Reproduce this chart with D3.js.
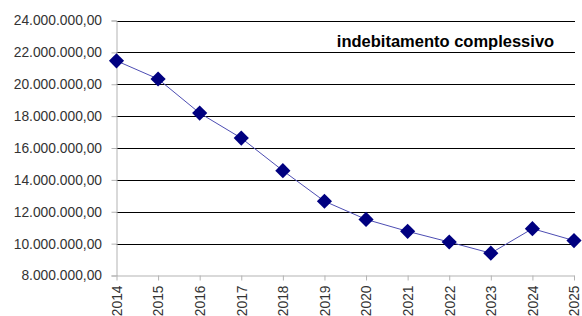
<!DOCTYPE html>
<html>
<head>
<meta charset="utf-8">
<script src="https://cdn.jsdelivr.net/npm/d3@7"></script>
<style>
  body { margin: 0; background: #fff; }
  svg { display: block; font-family: "Liberation Sans", Arial, sans-serif; }
</style>
</head>
<body>
<svg id="chart" width="582" height="316"></svg>
<script>
// data
var years = ["2014", "2015", "2016", "2017", "2018", "2019", "2020", "2021", "2022", "2023", "2024", "2025"];
var debt = [21470000, 20330000, 18190000, 16620000, 14580000, 12660000, 11520000, 10770000, 10100000, 9400000, 10940000, 10190000];
var yTicks = [8000000, 10000000, 12000000, 14000000, 16000000, 18000000, 20000000, 22000000, 24000000];
var title = "indebitamento complessivo";

var svg = d3.select("#chart");
var margin = {left: 116.5, right: 8, top: 20.5, bottom: 40.5};

var x = d3.scalePoint().domain(years).range([margin.left, 574]);
var y = d3.scaleLinear().domain([8000000, 24000000]).range([275.5, margin.top]);

// italian number format 24.000.000,00
var fmt = d3.formatLocale({decimal: ",", thousands: ".", grouping: [3], currency: ["€", ""]}).format(",.2f");

// gridlines
svg.append("g").selectAll("line")
  .data(yTicks.slice(1))
  .join("line")
  .attr("x1", margin.left).attr("x2", 575)
  .attr("y1", function (d) { return Math.round(y(d)) + 0.5; })
  .attr("y2", function (d) { return Math.round(y(d)) + 0.5; })
  .attr("stroke", "#000").attr("stroke-width", 1);

// y axis
var yAxis = svg.append("g")
  .attr("transform", "translate(" + margin.left + ",0)")
  .call(d3.axisLeft(y).tickValues(yTicks).tickFormat(fmt).tickSize(5).tickPadding(9.5));
yAxis.select(".domain").attr("stroke", "#b3b3b3");
yAxis.selectAll(".tick line").attr("stroke", "#b3b3b3");
yAxis.selectAll(".tick text")
  .attr("fill", "#333").attr("font-size", 13.8).attr("font-family", "Liberation Sans, Arial, sans-serif");

// x axis
var xAxis = svg.append("g")
  .attr("transform", "translate(0," + y(8000000) + ")")
  .call(d3.axisBottom(x).tickSize(5).tickSizeOuter(0));
xAxis.select(".domain").attr("stroke", "#b3b3b3");
xAxis.selectAll(".tick line").attr("stroke", "#b3b3b3");
xAxis.selectAll(".tick text")
  .attr("fill", "#333").attr("font-size", 13.8).attr("font-family", "Liberation Sans, Arial, sans-serif")
  .attr("transform", "rotate(-90)")
  .attr("text-anchor", "end")
  .attr("dy", "0.35em")
  .attr("x", -10).attr("y", 0);

// series line
var line = d3.line()
  .x(function (d, i) { return x(years[i]); })
  .y(function (d) { return y(d); });

svg.append("path")
  .datum(debt)
  .attr("d", line)
  .attr("fill", "none")
  .attr("stroke", "#4d4db3")
  .attr("stroke-width", 1);

// diamond markers
var sym = d3.symbol().type(d3.symbolSquare).size(115);
svg.append("g").selectAll("path")
  .data(debt)
  .join("path")
  .attr("d", sym)
  .attr("transform", function (d, i) { return "translate(" + x(years[i]) + "," + y(d) + ") rotate(45)"; })
  .attr("fill", "#000080");

// title
svg.append("text")
  .attr("x", 445.5).attr("y", 46.5)
  .attr("text-anchor", "middle")
  .attr("font-size", 16.5).attr("font-weight", "bold")
  .attr("font-family", "Liberation Sans, Arial, sans-serif")
  .attr("fill", "#000")
  .text(title);
</script>
</body>
</html>
